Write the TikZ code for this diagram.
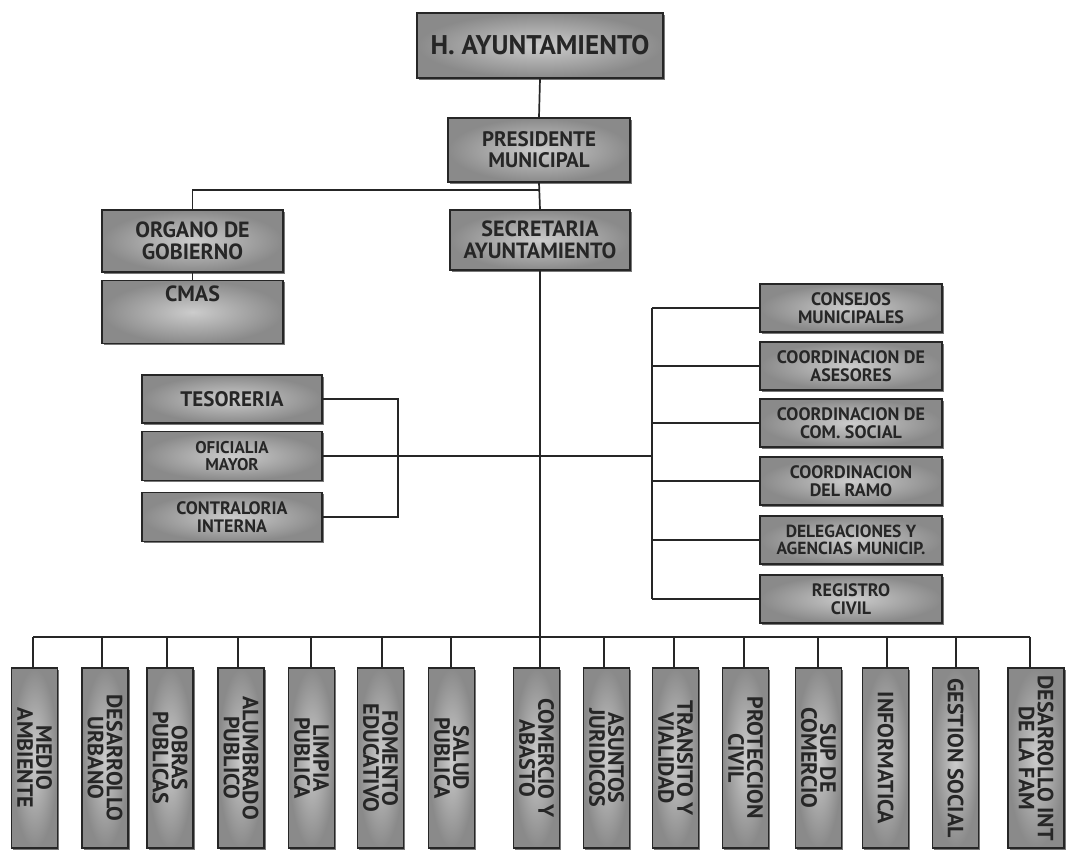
\documentclass[tikz,border=0pt]{standalone}
\usepackage{fontspec}
\newfontfamily\boxfont{PT Sans}
\usetikzlibrary{shadows}
\tikzset{
  orgbox/.style={draw=black!85, line width=1.8pt, inner color=gray!40, outer color=gray!92,
    text=black!85, align=center, inner sep=0pt,
    drop shadow={shadow xshift=1.8pt, shadow yshift=-1.8pt, fill=black!75, opacity=0.7}},
  fs/.style={font=\boxfont\bfseries\fontsize{#1}{#1}\selectfont},
  vbox/.style={orgbox, rotate=-90, minimum width=180pt, minimum height=46pt,
    font=\boxfont\bfseries\fontsize{22}{19}\selectfont},
  link/.style={draw=black!85, line width=1.7pt}
}
\begin{document}
\begin{tikzpicture}[x=1pt,y=1pt]
\useasboundingbox (0,0) rectangle (1071,-850);
\fill[white] (0,0) rectangle (1071,-850);

% top
\node[orgbox, fs=27, minimum width=246pt, minimum height=65pt] (hay) at (540,-45.5) {H. AYUNTAMIENTO};
\node[orgbox, fs=21, minimum width=182pt, minimum height=64pt] (pres) at (539,-150) {PRESIDENTE\\MUNICIPAL};
\node[orgbox, fs=22, minimum width=180pt, minimum height=60pt] (sec) at (540,-240) {SECRETARIA\\AYUNTAMIENTO};
\node[orgbox, fs=22, minimum width=181pt, minimum height=62pt] (org) at (192.5,-241) {ORGANO DE\\GOBIERNO};
\node[orgbox, fs=22, minimum width=181pt, minimum height=63pt] (cmas) at (192.5,-312) {CMAS\\[14pt]};

% left group
\node[orgbox, fs=21, minimum width=180pt, minimum height=48pt] (tes) at (232,-399) {TESORERIA};
\node[orgbox, fs=17, minimum width=180pt, minimum height=49pt] (ofi) at (232,-456) {OFICIALIA\\MAYOR};
\node[orgbox, fs=18, minimum width=180pt, minimum height=49pt] (con) at (232,-517) {CONTRALORIA\\INTERNA};

% right group
\node[orgbox, fs=18, minimum width=182pt, minimum height=48pt] (cons) at (851,-308) {CONSEJOS\\MUNICIPALES};
\node[orgbox, fs=18, minimum width=182pt, minimum height=48pt] (ase) at (851,-366) {COORDINACION DE\\ASESORES};
\node[orgbox, fs=18, minimum width=182pt, minimum height=48pt] (com) at (851,-423) {COORDINACION DE\\COM. SOCIAL};
\node[orgbox, fs=18, minimum width=182pt, minimum height=48pt] (ramo) at (851,-481) {COORDINACION\\DEL RAMO};
\node[orgbox, fs=17.5, minimum width=182pt, minimum height=48pt] (del) at (851,-540) {DELEGACIONES Y\\AGENCIAS MUNICIP.};
\node[orgbox, fs=18, minimum width=182pt, minimum height=48pt] (reg) at (851,-599) {REGISTRO\\CIVIL};

% bottom row
\node[vbox] (m1) at (34.5,-758) {MEDIO\\AMBIENTE};
\node[vbox] (m2) at (105,-758) {DESARROLLO\\URBANO};
\node[vbox] (m3) at (170,-758) {OBRAS\\PUBLICAS};
\node[vbox] (m4) at (241,-758) {ALUMBRADO\\PUBLICO};
\node[vbox] (m5) at (311.5,-758) {LIMPIA\\PUBLICA};
\node[vbox] (m6) at (380.5,-758) {FOMENTO\\EDUCATIVO};
\node[vbox] (m7) at (451.5,-758) {SALUD\\PUBLICA};
\node[vbox] (m8) at (536.5,-758) {COMERCIO Y\\ABASTO};
\node[vbox] (m9) at (606.5,-758) {ASUNTOS\\JURIDICOS};
\node[vbox] (m10) at (675.5,-758) {TRANSITO Y\\VIALIDAD};
\node[vbox] (m11) at (745.5,-758) {PROTECCION\\CIVIL};
\node[vbox] (m12) at (818.5,-758) {SUP DE\\COMERCIO};
\node[vbox] (m13) at (885.5,-758) {INFORMATICA};
\node[vbox] (m14) at (955.5,-758) {GESTION SOCIAL};
\node[vbox, minimum height=56pt] (m15) at (1036,-758) {DESARROLLO INT\\DE LA FAM};

% coordinates
\coordinate (j1) at (540,-190);
\coordinate (lb) at (398,-399);
\coordinate (rtop) at (652,-308);
\coordinate (rbot) at (652,-599);
\coordinate (rmid) at (652,-456);
\coordinate (busL) at (33,-637);
\coordinate (busR) at (1030,-637);
\coordinate (busC) at (540,-637);

% connectors
\draw[link] (hay.south) -- (pres.north);
\draw[link] (pres.south) -- (sec.north);
\draw[link] (j1) -| (org.north);
\draw[link] (org.south) -- (cmas.north);
\draw[link] (sec.south) -- (busC);
\draw[link] (tes.east) -- (lb) |- (con.east);
\draw[link] (ofi.east) -- (rmid);
\draw[link] (rtop) -- (rbot);
\foreach \n in {cons,ase,com,ramo,del,reg}
  \draw[link] (\n.west) -- (\n.west -| rtop);
\draw[link] (busL) -- (busR);
\foreach \n/\x in {m1/33,m2/102,m3/167,m4/238,m5/311,m6/382,m7/451,m8/540,m9/604,m10/674,m11/744,m12/818,m13/887,m14/956,m15/1030}
  \draw[link] (\x,-637) -- (\x,-637 |- \n.west);
\end{tikzpicture}
\end{document}
